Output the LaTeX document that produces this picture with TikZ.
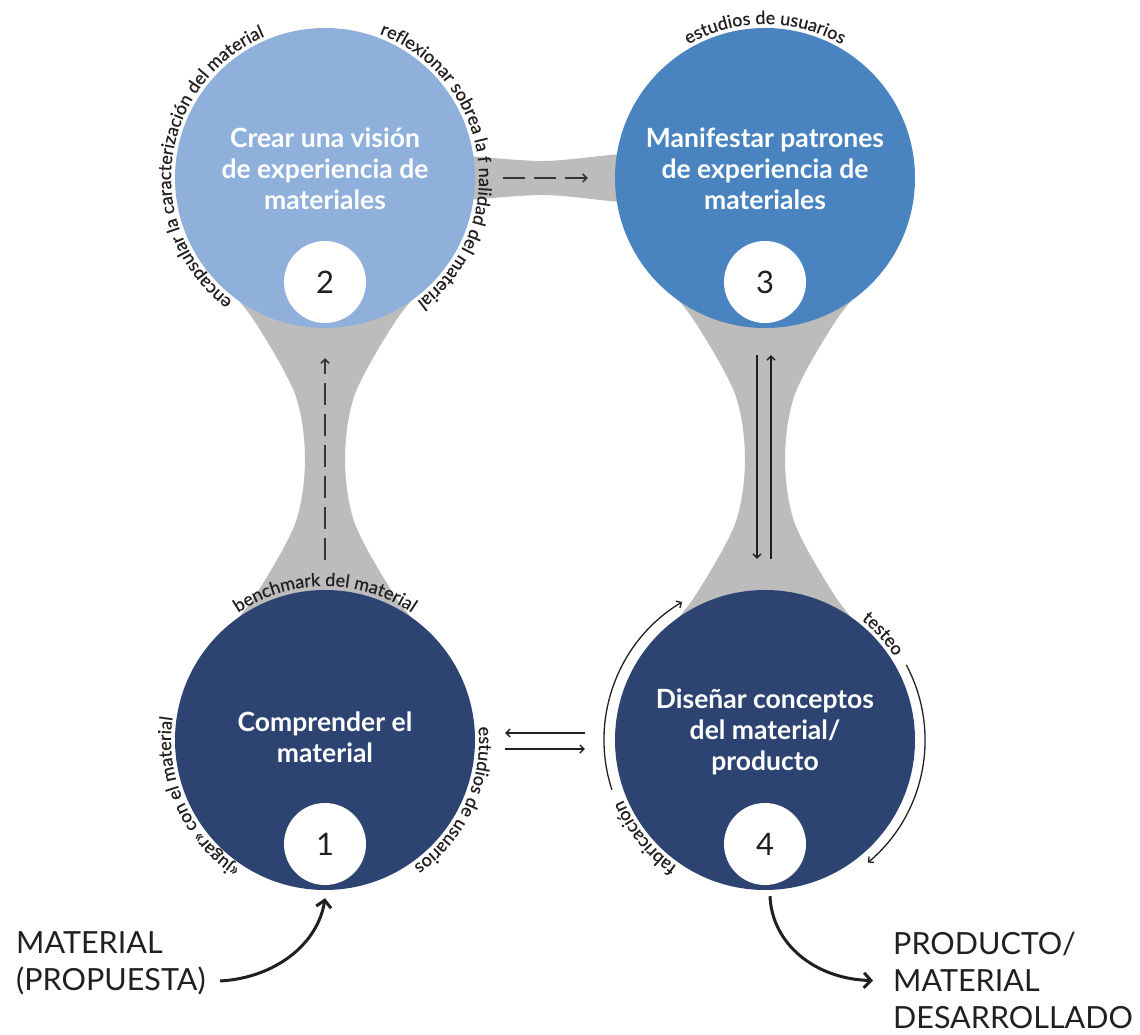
\documentclass[tikz,border=0pt]{standalone}
\usepackage{fontspec}
\setmainfont{Lato}
\newfontfamily\arcfam[FakeBold=0.5]{Lato}
\usetikzlibrary{decorations.text,arrows.meta}
\definecolor{cA}{HTML}{8FB0DB}
\definecolor{cB}{HTML}{4A84C0}
\definecolor{cC}{HTML}{2D4473}
\definecolor{neck}{HTML}{BCBCBC}
\definecolor{ink}{HTML}{231F20}
\newcommand\arcsz{\arcfam\fontsize{18}{18}\selectfont}
\begin{document}
\begin{tikzpicture}[x=1pt,y=1pt,
  big/.style={circle, minimum size=300pt, inner sep=0pt, draw=none},
  num/.style={circle, fill=white, minimum size=82pt, inner sep=0pt, text=ink, font=\fontsize{31}{31}\selectfont},
  title/.style={align=center, text=white, inner sep=0pt, font=\bfseries\fontsize{26.5}{31}\selectfont},
  arctext/.style={decorate, decoration={text along path, text align=center, text color=ink, text={|\arcsz|#1}}},
  thinarrow/.style={draw=ink, line width=1.3pt, -{Straight Barb[length=4pt,width=8pt,line width=1.3pt]}},
  dasharrow/.style={draw=ink!90, line width=2pt, dash pattern=on 22pt off 9pt, -{Straight Barb[length=4pt,width=8pt,line width=1.5pt]}},
  thickarrow/.style={draw=ink, line width=3pt, -{Straight Barb[length=7pt,width=15pt,line width=3pt]}},
  bigtext/.style={align=left, anchor=north west, inner sep=0pt, text=ink, font=\fontsize{30.5}{37}\selectfont},
  vneck/.pic={\fill[neck] plot[smooth] coordinates {(-110,185) (-72,140) (-30,65) (-20,0) (-30,-65) (-72,-140) (-110,-185)}
      -- plot[smooth] coordinates {(110,-185) (72,-140) (30,-65) (20,0) (30,65) (72,140) (110,185)} -- cycle;}
]
\useasboundingbox (0,0) rectangle (1140,1034);
% grey bridges
\pic at (325,575) {vneck};
\pic at (765,575) {vneck};
\fill[neck] plot[smooth] coordinates {(455,879) (480,877) (545,873) (610,879) (635,881)}
   -- plot[smooth] coordinates {(635,831) (610,833) (545,839) (480,835) (455,833)} -- cycle;
% main circles
\node[big, fill=cC] (n1) at (325,294) {};
\node[big, fill=cA] (n2) at (325,856) {};
\node[big, fill=cB] (n3) at (765,856) {};
\node[big, fill=cC] (n4) at (765,294) {};
% number discs
\node[num] (k1) at (325,190) {1};
\node[num] (k2) at (325,752) {2};
\node[num] (k3) at (765,752) {3};
\node[num] (k4) at (765,190) {4};
% titles
\node[title] (t1) at (325,297) {Comprender el\\material};
\node[title] (t2) at (325,865) {Crear una visión\\de experiencia de\\materiales};
\node[title] (t3) at (765,865) {Manifestar patrones\\de experiencia de\\materiales};
\node[title] (t4) at (765,302) {Diseñar conceptos\\del material/\\producto};
% curved texts
\path[arctext={benchmark del material}] (n1.center) ++(180:154) arc[start angle=180, end angle=0, radius=154];
\path[arctext={estudios de usuarios}] (n1.center) ++(65:154) arc[start angle=65, end angle=-115, radius=154];
\path[arctext={«jugar» con el material}] (n1.center) ++(294:154) arc[start angle=294, end angle=114, radius=154];
\path[arctext={encapsular la caracterización del material}] (n2.center) ++(263:154) arc[start angle=263, end angle=83, radius=154];
\path[arctext={reflexionar sobrea la f nalidad del material}] (n2.center) ++(98:154) arc[start angle=98, end angle=-82, radius=154];
\path[arctext={estudios de usuarios}] (n3.center) ++(180:154) arc[start angle=180, end angle=0, radius=154];
\path[arctext={testeo}] (n4.center) ++(132:154) arc[start angle=132, end angle=-48, radius=154];
\path[arctext={fabricación}] (n4.center) ++(309:154) arc[start angle=309, end angle=129, radius=154];
% connectors
\draw[dasharrow] ([yshift=30pt]n1.north) -- ([yshift=-30pt]n2.south);
\draw[dasharrow] ([xshift=28pt]n2.east) -- ([xshift=-27pt]n3.west);
\draw[thinarrow] ([xshift=-8pt,yshift=-27pt]n3.south) -- ([xshift=-8pt,yshift=31pt]n4.north);
\draw[thinarrow] ([xshift=6pt,yshift=31pt]n4.north) -- ([xshift=6pt,yshift=-27pt]n3.south);
\draw[thinarrow] ([xshift=-30pt,yshift=7pt]n4.west) -- ([xshift=30pt,yshift=7pt]n1.east);
\draw[thinarrow] ([xshift=30pt,yshift=-9pt]n1.east) -- ([xshift=-30pt,yshift=-9pt]n4.west);
\draw[thinarrow] (n4.center) ++(198:161) arc[start angle=198, end angle=121, radius=161];
\draw[thinarrow] (n4.center) ++(28:160) arc[start angle=28, end angle=-50, radius=160];
% input / output
\node[bigtext] (matin) at (16,103) {MATERIAL\\(PROPUESTA)};
\node[bigtext] (matout) at (893,102) {PRODUCTO/\\MATERIAL\\DESARROLLADO};
\coordinate (inA) at (220,53);
\draw[thickarrow] (inA) .. controls (275,56) and (318,90) .. ([yshift=-8pt]n1.south);
\draw[thickarrow] ([xshift=5pt,yshift=-6pt]n4.south) .. controls (772,90) and (815,55) .. ([xshift=-20pt]matout.west);
\end{tikzpicture}
\end{document}
